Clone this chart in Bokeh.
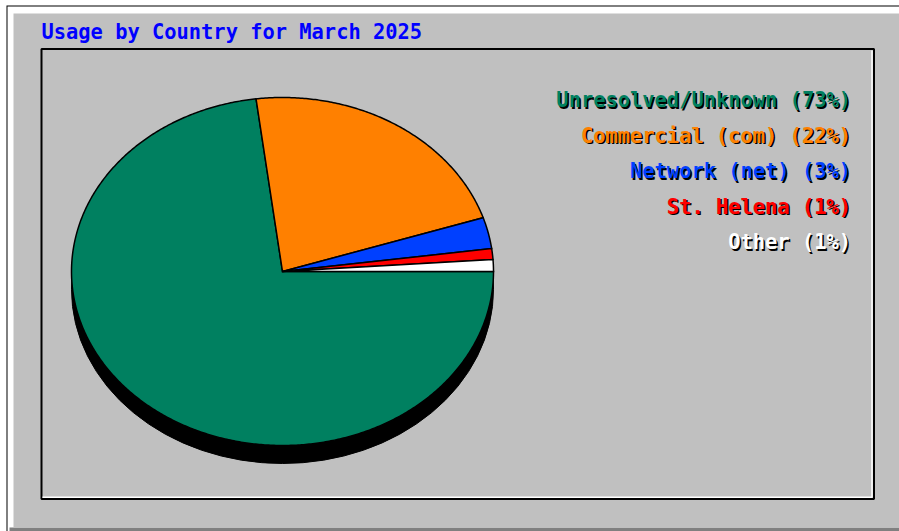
import numpy as np
from bokeh.plotting import figure
from bokeh.models import Range1d
from bokeh.core.properties import value
from bokeh.embed import file_html
from bokeh.resources import INLINE

# ---- data ----
title_text = "Usage by Country for March 2025"
categories = ["Unresolved/Unknown", "Commercial (com)", "Network (net)", "St. Helena", "Other"]
percent = [73.0, 22.0, 2.9, 1.0, 1.1]
slice_colors = ["#008060", "#FF8000", "#0040FF", "#FF0000", "#FFFFFF"]

# ---- layout (pixels) ----
W, H = 899, 531
GRAY = "#C0C0C0"
cx, cy, rx, ry, depth = 282.0, 271.0, 211.0, 174.0, 18.0
FONT = value("DejaVu Sans Mono")
FSIZE = value("20.4px")

p = figure(width=W, height=H, x_range=Range1d(0, W), y_range=Range1d(H, 0),
           output_backend="svg", toolbar_location=None, min_border=0,
           x_axis_location=None, y_axis_location=None,
           background_fill_color="white", border_fill_color="white",
           outline_line_color=None)
p.grid.visible = False
p.styles = {"position": "absolute", "left": "0px", "top": "0px"}

# outer image box with bevel
p.quad(left=[6], right=[910], top=[5], bottom=[540], fill_color="black", line_color=None)
p.quad(left=[7], right=[910], top=[6], bottom=[540], fill_color="white", line_color=None)
p.quad(left=[9], right=[910], top=[527], bottom=[540], fill_color="#808080", line_color=None)
p.quad(left=[13], right=[910], top=[13], bottom=[527], fill_color=GRAY, line_color=None)

# inner frame
p.quad(left=[41], right=[873.5], top=[48.5], bottom=[498.5], fill_color=GRAY,
       line_color="black", line_width=2)
p.line(x=[42, 871.5, 871.5], y=[496.8, 496.8, 50], line_color="white", line_width=1.5)

# pie shadow / side
p.ellipse(x=[cx], y=[cy + depth], width=[2 * rx], height=[2 * ry],
          fill_color="black", line_color="black", line_width=1)
p.quad(left=[cx - rx], right=[cx + rx], top=[cy], bottom=[cy + depth],
       fill_color="black", line_color=None)

# pie slices
total = float(sum(percent))
ends = np.cumsum(percent) / total * 2 * np.pi
starts = np.concatenate([[0.0], ends[:-1]])
xs, ys = [], []
for a0, a1 in zip(starts, ends):
    n = max(3, int(np.degrees(a1 - a0) * 2))
    t = np.linspace(a0, a1, n)
    xs.append([cx] + list(cx + rx * np.cos(t)))
    ys.append([cy] + list(cy + ry * np.sin(t)))
p.patches(xs=xs, ys=ys, fill_color=slice_colors, line_color="black", line_width=1.5,
          line_join="miter")

# title
p.text(x=[41], y=[31], text=[title_text], text_color="#0000FF", text_font=FONT,
       text_font_style="bold", text_font_size=FSIZE, text_baseline="alphabetic",
       text_align="left")

# legend
labels = [f"{c} ({round(v / total * 100)}%)" for c, v in zip(categories, percent)]
lx = 850.5
ly = [99.5 + 35.5 * i for i in range(len(labels))]
p.text(x=[lx + 1.5] * len(labels), y=[v + 1.5 for v in ly], text=labels, text_color="black",
       text_font=FONT, text_font_style="bold", text_font_size=FSIZE,
       text_baseline="alphabetic", text_align="right")
p.text(x=[lx] * len(labels), y=ly, text=labels, text_color=slice_colors,
       text_font=FONT, text_font_style="bold", text_font_size=FSIZE,
       text_baseline="alphabetic", text_align="right")

open("out.html", "w").write(file_html(p, INLINE))
